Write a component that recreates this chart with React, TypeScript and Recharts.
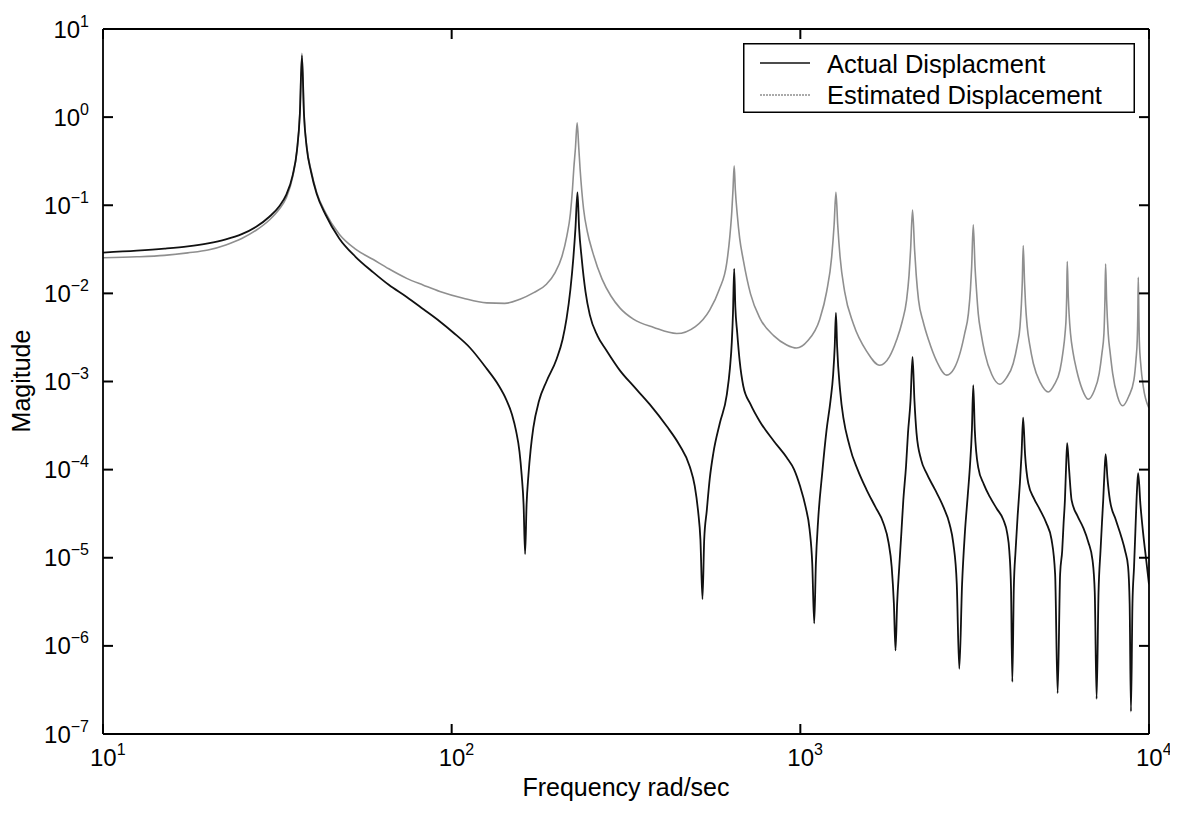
import { Legend, Line, LineChart, XAxis, YAxis } from "recharts";

// [frequency rad/sec, magnitude]
const actualPoints: [number, number][] = [
  [10, 0.029], [12.5, 0.0305], [15, 0.0322], [17.5, 0.0342], [20, 0.037], [22.5, 0.041],
  [25, 0.047], [27.5, 0.057], [30, 0.074], [32, 0.097], [33.5, 0.13], [35, 0.22], [36, 0.42],
  [36.7, 1.1], [37.2, 5.0], [37.7, 1.1], [38.4, 0.45], [39.5, 0.24], [41, 0.135], [43.5, 0.078],
  [47.6, 0.042], [53, 0.026], [59.6, 0.0173], [66, 0.0125], [74.3, 0.0091], [83, 0.0066],
  [92.5, 0.0048], [101, 0.0036], [113, 0.0024], [126, 0.0014], [136, 0.00092], [143.5, 0.00062],
  [149, 0.00042], [153, 0.000275], [156.5, 0.00016], [158.8, 0.000086], [160.8, 0.00004],
  [162.4, 0.000011], [164, 0.00004], [166, 0.000086], [168.5, 0.00017], [171.5, 0.0003],
  [178, 0.0006], [187, 0.001], [200, 0.0018], [208, 0.003], [213.6, 0.0052], [219, 0.011],
  [223.3, 0.025], [226.5, 0.055], [229.5, 0.14], [232, 0.055], [236, 0.025], [242, 0.0105],
  [249, 0.0057], [262, 0.0033], [278, 0.00225], [304, 0.00133], [332, 0.00089], [370, 0.00055],
  [414, 0.00031], [450, 0.00019], [482, 0.000108], [498, 0.000065], [509, 0.000034],
  [517, 0.000016], [524, 0.0000034], [530, 0.000016], [539, 0.000034], [550, 0.00008],
  [563, 0.000154], [588, 0.00034], [615, 0.0007], [628, 0.0014], [636, 0.0028], [641, 0.006],
  [646, 0.019], [651, 0.007], [659, 0.0036], [670, 0.0017], [686, 0.00089], [720, 0.00055],
  [766, 0.00035], [840, 0.00021], [914, 0.000137], [960, 0.0001], [998, 0.000065],
  [1035, 0.000038], [1063, 0.000021], [1082, 0.0000085], [1096, 0.0000018], [1108, 0.0000085],
  [1125, 0.000027], [1155, 0.00009], [1189, 0.00028], [1220, 0.0006], [1242, 0.0012],
  [1255, 0.0025], [1265, 0.006], [1275, 0.0025], [1300, 0.0008], [1387, 0.00018],
  [1460, 0.0001], [1549, 0.000059], [1640, 0.000038], [1729, 0.000025], [1790, 0.000015],
  [1828, 0.0000079], [1855, 0.000003], [1875, 0.00000089], [1895, 0.000003], [1922, 0.0000079],
  [1950, 0.00002], [1974, 0.000045], [2010, 0.00011], [2036, 0.00026], [2070, 0.0006],
  [2098, 0.0019], [2125, 0.0006], [2154, 0.00026], [2220, 0.00013], [2301, 0.000091],
  [2430, 0.00006], [2570, 0.000038], [2680, 0.000024], [2747, 0.0000145], [2810, 0.000005],
  [2857, 0.00000055], [2910, 0.000005], [2964, 0.000019], [3020, 0.00005], [3064, 0.000107],
  [3105, 0.00028], [3133, 0.00091], [3165, 0.00028], [3236, 0.000107], [3360, 0.000068],
  [3496, 0.000049], [3660, 0.000036], [3822, 0.000027], [3920, 0.000019], [3975, 0.000012],
  [4020, 0.0000045], [4055, 0.00000039], [4095, 0.0000045], [4143, 0.000012], [4200, 0.00003],
  [4263, 0.00007], [4310, 0.00015], [4355, 0.00039], [4410, 0.00015], [4505, 0.00007],
  [4680, 0.000047], [4868, 0.000035], [5070, 0.000025], [5255, 0.000016], [5380, 0.0000065],
  [5470, 0.00000029], [5560, 0.0000065], [5637, 0.000012], [5690, 0.000025], [5739, 0.000045],
  [5780, 0.0001], [5825, 0.0002], [5900, 0.0001], [5998, 0.000045], [6230, 0.00003],
  [6475, 0.000022], [6700, 0.000015], [6890, 0.0000093], [6990, 0.000004], [7075, 0.00000025],
  [7165, 0.000004], [7260, 0.000012], [7330, 0.000025], [7390, 0.000045], [7450, 0.00009],
  [7510, 0.00015], [7600, 0.00008], [7725, 0.000045], [8030, 0.000027], [8340, 0.000017],
  [8540, 0.000012], [8710, 0.0000079], [8800, 0.000003], [8877, 0.00000018], [8965, 0.000003],
  [9060, 0.0000079], [9140, 0.00002], [9210, 0.000045], [9260, 0.00007], [9310, 0.000091],
  [9450, 0.00004], [9620, 0.000019], [9800, 0.00001], [10000, 0.000005],
];

const estimatedPoints: [number, number][] = [
  [10, 0.0254], [12.5, 0.026], [15, 0.027], [17.5, 0.0288], [20, 0.031], [22.5, 0.0355],
  [25, 0.042], [27.5, 0.052], [30, 0.068], [32, 0.09], [33.5, 0.12], [35, 0.21], [36, 0.42],
  [36.7, 1.1], [37.2, 5.3], [37.7, 1.1], [38.4, 0.46], [39.5, 0.25], [41, 0.14], [43.5, 0.082],
  [47.6, 0.047], [53, 0.0318], [59.6, 0.0242], [66, 0.019], [74.3, 0.0148], [83, 0.0124],
  [92.5, 0.0105], [108, 0.0088], [126, 0.0078], [142, 0.0077], [157, 0.0086], [172, 0.0102],
  [187, 0.0127], [198, 0.0172], [207, 0.026], [214, 0.045], [219, 0.08], [222, 0.15],
  [224, 0.26], [226.5, 0.45], [229, 0.86], [231.5, 0.45], [233.5, 0.26], [236, 0.15],
  [239, 0.09], [245, 0.05], [254, 0.029], [270, 0.0145], [286, 0.0094], [304, 0.0068],
  [332, 0.0051], [380, 0.0041], [442, 0.0035], [500, 0.0042], [550, 0.0065], [585, 0.011],
  [615, 0.022], [628, 0.045], [636, 0.085], [641, 0.15], [646, 0.28], [651, 0.15], [659, 0.08],
  [670, 0.042], [686, 0.024], [720, 0.0098], [766, 0.0052], [840, 0.0033], [914, 0.0026],
  [975, 0.0024], [1050, 0.0029], [1137, 0.0051], [1190, 0.0105], [1230, 0.026], [1250, 0.06],
  [1265, 0.14], [1280, 0.06], [1300, 0.026], [1340, 0.0105], [1420, 0.0045], [1550, 0.0022],
  [1690, 0.00153], [1800, 0.0019], [1888, 0.00295], [1960, 0.0048], [2017, 0.0084],
  [2050, 0.016], [2071, 0.031], [2098, 0.088], [2127, 0.031], [2150, 0.016], [2183, 0.0084],
  [2250, 0.0048], [2333, 0.00295], [2460, 0.0017], [2628, 0.00118], [2760, 0.0014],
  [2871, 0.0021], [2960, 0.0035], [3034, 0.0059], [3075, 0.011], [3100, 0.02], [3133, 0.06],
  [3170, 0.02], [3200, 0.011], [3238, 0.0059], [3300, 0.0035], [3382, 0.0021], [3540, 0.0012],
  [3733, 0.00093], [3900, 0.0011], [4079, 0.0016], [4190, 0.0026], [4266, 0.0042],
  [4305, 0.0075], [4330, 0.013], [4358, 0.035], [4397, 0.013], [4425, 0.0075], [4474, 0.0042],
  [4550, 0.0026], [4659, 0.0016], [4880, 0.00097], [5142, 0.00076], [5350, 0.00092],
  [5556, 0.00135], [5660, 0.0021], [5744, 0.0035], [5790, 0.0058], [5807, 0.0092],
  [5828, 0.023], [5868, 0.0092], [5900, 0.0058], [5955, 0.0035], [6060, 0.0021],
  [6199, 0.00135], [6430, 0.00082], [6692, 0.00063], [6960, 0.00078], [7198, 0.00124],
  [7330, 0.0021], [7426, 0.0035], [7475, 0.0084], [7508, 0.0215], [7558, 0.0084],
  [7639, 0.0035], [7740, 0.0021], [7866, 0.00124], [8120, 0.00068], [8404, 0.00053],
  [8750, 0.00068], [9052, 0.00104], [9180, 0.0018], [9253, 0.00295], [9290, 0.006],
  [9317, 0.0152], [9350, 0.006], [9380, 0.00295], [9480, 0.0015], [9632, 0.00087],
  [10000, 0.0005],
];

const xDecades = [10, 100, 1000, 10000];
const yDecades = [1e-7, 1e-6, 1e-5, 1e-4, 1e-3, 1e-2, 1e-1, 1, 10];
const seriesNames = ["Actual Displacment", "Estimated Displacement"];

// 2..9 times each decade, for the short minor ticks
const minorsOf = (decades: number[]) =>
  decades.slice(0, -1).flatMap((d) => [2, 3, 4, 5, 6, 7, 8, 9].map((k) => d * k));
const xMinor = minorsOf(xDecades);
const yMinor = minorsOf(yDecades);

const actualData = actualPoints.map(([f, m]) => ({ f, m }));
const estimatedData = estimatedPoints.map(([f, m]) => ({ f, m }));

const FONT = '"Liberation Sans", Arial, Helvetica, sans-serif';
const BLACK = "#111";
const GRAY = "#8f8f8f";
const MAJOR = 10;
const MINOR = 6;
const X_DOMAIN: [number, number] = [10, 10000];
const Y_DOMAIN: [number, number] = [1e-7, 10];

const expText = (v: number) => {
  const e = Math.round(Math.log10(v));
  return e < 0 ? `\u2212${-e}` : `${e}`;
};

const NoLabel = () => <g />;

// tick lines are drawn by recharts itself (negative tickSize = inward); these only add the 10^n text
const BottomLabel = (props: any) => {
  const { x, y, payload } = props;
  return (
    <text x={x - 13} y={y + 42} fontSize={24} fontFamily={FONT} fill="#000" stroke="none">
      10<tspan dy={-11} fontSize={16}>{expText(payload.value)}</tspan>
    </text>
  );
};

const LeftLabel = (props: any) => {
  const { x, y, payload } = props;
  return (
    <text x={x - 24} y={y + 8.5} textAnchor="end" fontSize={24} fontFamily={FONT} fill="#000" stroke="none">
      10<tspan dy={-11} fontSize={16}>{expText(payload.value)}</tspan>
    </text>
  );
};

const renderYLabel = () => (
  <text transform="translate(30,381) rotate(-90)" textAnchor="middle" fontSize={25} fontFamily={FONT} fill="#000">
    Magitude
  </text>
);

const renderLegend = () => (
  <svg width={392} height={70} style={{ display: "block", background: "#fff" }}>
    <rect x={0.75} y={0.75} width={390.5} height={68.5} fill="#fff" stroke="#000" strokeWidth={1.5} />
    <line x1={17} x2={67} y1={20} y2={20} stroke={BLACK} strokeWidth={1.5} />
    <text x={84} y={30} fontSize={25.5} fontFamily={FONT} fill="#000">{seriesNames[0]}</text>
    <line x1={17} x2={67} y1={52} y2={52} stroke={GRAY} strokeWidth={1.5} strokeDasharray="2 1" />
    <text x={84} y={61} fontSize={25.5} fontFamily={FONT} fill="#000">{seriesNames[1]}</text>
  </svg>
);

const axisLine = { stroke: "#000", strokeWidth: 1.8 };
const tickLine = { stroke: "#000", strokeWidth: 2 };

export default function App() {
  return (
    <div style={{ margin: -8, width: 1178, height: 819, overflow: "hidden", background: "#fff" }}>
      <LineChart width={1178} height={819} margin={{ top: 0, right: 0, bottom: 0, left: 0 }}>
        {/* minor-tick axes first, 1px thick (a 0px axis is not drawn), so the labelled axes sit on the same edges */}
        <XAxis xAxisId="bm" dataKey="f" type="number" scale="log" domain={X_DOMAIN} allowDataOverflow
          ticks={xMinor} interval={0} tickSize={-MINOR} tickMargin={0} tick={<NoLabel />}
          tickLine={tickLine} axisLine={false} height={1} />
        <XAxis xAxisId="tm" orientation="top" dataKey="f" type="number" scale="log" domain={X_DOMAIN} allowDataOverflow
          ticks={xMinor} interval={0} tickSize={-MINOR} tickMargin={0} tick={<NoLabel />}
          tickLine={tickLine} axisLine={false} height={1} />
        <YAxis yAxisId="lm" type="number" scale="log" domain={Y_DOMAIN} allowDataOverflow
          ticks={yMinor} interval={0} tickSize={-MINOR} tickMargin={0} tick={<NoLabel />}
          tickLine={tickLine} axisLine={false} width={1} />
        <YAxis yAxisId="rm" orientation="right" type="number" scale="log" domain={Y_DOMAIN} allowDataOverflow
          ticks={yMinor} interval={0} tickSize={-MINOR} tickMargin={0} tick={<NoLabel />}
          tickLine={tickLine} axisLine={false} width={1} />

        <XAxis
          xAxisId="b"
          dataKey="f"
          type="number"
          scale="log"
          domain={X_DOMAIN}
          allowDataOverflow
          ticks={xDecades}
          interval={0}
          tickSize={-MAJOR}
          tickMargin={0}
          tick={<BottomLabel />}
          tickLine={tickLine}
          axisLine={axisLine}
          height={84}
          label={{
            value: "Frequency rad/sec",
            position: "insideBottom",
            offset: 22,
            style: { fontSize: 25, fontFamily: FONT, fill: "#000" },
          }}
        />
        <XAxis
          xAxisId="t"
          orientation="top"
          dataKey="f"
          type="number"
          scale="log"
          domain={X_DOMAIN}
          allowDataOverflow
          ticks={xDecades}
          interval={0}
          tickSize={-MAJOR}
          tickMargin={0}
          tick={<NoLabel />}
          tickLine={tickLine}
          axisLine={axisLine}
          height={28}
        />
        <YAxis
          yAxisId="l"
          type="number"
          scale="log"
          domain={Y_DOMAIN}
          allowDataOverflow
          ticks={yDecades}
          interval={0}
          tickSize={-MAJOR}
          tickMargin={0}
          tick={<LeftLabel />}
          tickLine={tickLine}
          axisLine={axisLine}
          width={102}
          label={renderYLabel}
        />
        <YAxis
          yAxisId="r"
          orientation="right"
          type="number"
          scale="log"
          domain={Y_DOMAIN}
          allowDataOverflow
          ticks={yDecades}
          interval={0}
          tickSize={-MAJOR}
          tickMargin={0}
          tick={<NoLabel />}
          tickLine={tickLine}
          axisLine={axisLine}
          width={28}
        />
        <Line
          xAxisId="b"
          yAxisId="l"
          data={estimatedData}
          dataKey="m"
          name={seriesNames[1]}
          stroke={GRAY}
          strokeWidth={1.6}
          dot={false}
          type="monotoneX"
          isAnimationActive={false}
        />
        <Line
          xAxisId="b"
          yAxisId="l"
          data={actualData}
          dataKey="m"
          name={seriesNames[0]}
          stroke={BLACK}
          strokeWidth={1.8}
          dot={false}
          type="monotoneX"
          isAnimationActive={false}
        />
        <Legend
          layout="vertical"
          align="center"
          verticalAlign="middle"
          content={renderLegend}
          wrapperStyle={{ left: 743, top: 43, width: 392, height: 70 }}
        />
      </LineChart>
    </div>
  );
}
